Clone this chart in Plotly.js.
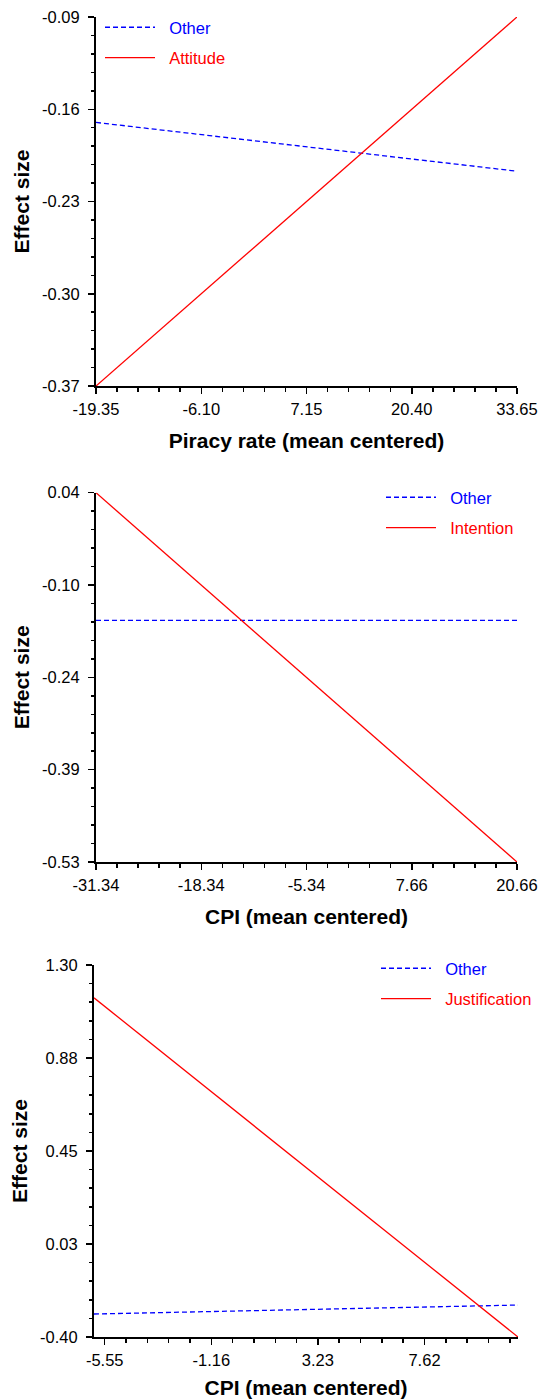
<!DOCTYPE html>
<html>
<head>
<meta charset="utf-8">
<script src="https://cdn.plot.ly/plotly-3.0.1.min.js"></script>
<style>
  html, body { margin: 0; padding: 0; background: #ffffff; }
  #chart { width: 539px; height: 1399px; }
</style>
</head>
<body>
<div id="chart"></div>
<script>
// ---------- Data ----------
// Panel 1: Piracy rate
const p1X = [-19.35, 33.65];
const p1Other = [-0.170, -0.207];
const p1Attitude = [-0.37, -0.09];
const p1XTicks = [-19.35, -6.10, 7.15, 20.40, 33.65];
const p1XTickText = ['-19.35', '-6.10', '7.15', '20.40', '33.65'];
const p1YTicks = [-0.37, -0.30, -0.23, -0.16, -0.09];
const p1YTickText = ['-0.37', '-0.30', '-0.23', '-0.16', '-0.09'];

// Panel 2: CPI / Intention
const p2X = [-31.34, 20.66];
const p2Other = [-0.157, -0.157];
const p2Intention = [0.04, -0.53];
const p2XTicks = [-31.34, -18.34, -5.34, 7.66, 20.66];
const p2XTickText = ['-31.34', '-18.34', '-5.34', '7.66', '20.66'];
const p2YTicks = [-0.53, -0.3875, -0.245, -0.1025, 0.04];
const p2YTickText = ['-0.53', '-0.39', '-0.24', '-0.10', '0.04'];

// Panel 3: CPI / Justification
const p3X = [-5.99, 11.47];
const p3Other = [-0.295, -0.254];
const p3Justification = [1.15, -0.40];
const p3XTicks = [-5.55, -1.16, 3.23, 7.62];
const p3XTickText = ['-5.55', '-1.16', '3.23', '7.62'];
const p3YTicks = [-0.40, 0.025, 0.45, 0.875, 1.30];
const p3YTickText = ['-0.40', '0.03', '0.45', '0.88', '1.30'];

const seriesNames = ['Other', 'Attitude', 'Intention', 'Justification'];
const xTitles = ['Piracy rate (mean centered)', 'CPI (mean centered)', 'CPI (mean centered)'];
const yTitle = 'Effect size';

// ---------- Styling ----------
const W = 539, H = 1399;
const BLUE = '#0000ff', RED = '#ff0000';
const FONT = 'Liberation Sans, Arial, Helvetica, sans-serif';

function xd(a, b) { return [a / W, b / W]; }
function yd(top, bottom) { return [1 - bottom / H, 1 - top / H]; }

function axisBase(extra) {
  return Object.assign({
    showline: true, linecolor: '#000', linewidth: 2,
    showgrid: false, zeroline: false,
    ticks: 'outside', ticklen: 6, tickwidth: 1.5, tickcolor: '#000',
    tickmode: 'array',
    tickfont: { family: FONT, size: 16.5, color: '#000' },
    fixedrange: true
  }, extra);
}
function minor(t0, dt) {
  return { tickmode: 'linear', tick0: t0, dtick: dt, ticks: 'outside', ticklen: 3.5, tickwidth: 1.5, tickcolor: '#000', showgrid: false };
}
function xTitle(t) {
  return { text: t, font: { family: FONT, size: 21, weight: 'bold', color: '#000' }, standoff: 17 };
}
function yTitleObj() {
  return { text: yTitle, font: { family: FONT, size: 21, weight: 'bold', color: '#000' }, standoff: 7 };
}
function nm(t, c) { return '<span style="color:' + c + '">&nbsp;&nbsp;' + t + '</span>'; }

const otherLine = { color: BLUE, width: 1.3, dash: '5px,3px' };
const redLine = { color: RED, width: 1.3 };

const traces = [
  { x: p1X, y: p1Other, xaxis: 'x', yaxis: 'y', mode: 'lines', line: otherLine, name: nm(seriesNames[0], BLUE), legend: 'legend', legendgroup: 'a1' },
  { x: p1X, y: p1Attitude, xaxis: 'x', yaxis: 'y', mode: 'lines', line: redLine, name: nm(seriesNames[1], RED), legend: 'legend', legendgroup: 'b1' },
  { x: p2X, y: p2Other, xaxis: 'x2', yaxis: 'y2', mode: 'lines', line: otherLine, name: nm(seriesNames[0], BLUE), legend: 'legend2', legendgroup: 'a2' },
  { x: p2X, y: p2Intention, xaxis: 'x2', yaxis: 'y2', mode: 'lines', line: redLine, name: nm(seriesNames[2], RED), legend: 'legend2', legendgroup: 'b2' },
  { x: p3X, y: p3Other, xaxis: 'x3', yaxis: 'y3', mode: 'lines', line: otherLine, name: nm(seriesNames[0], BLUE), legend: 'legend3', legendgroup: 'a3' },
  { x: p3X, y: p3Justification, xaxis: 'x3', yaxis: 'y3', mode: 'lines', line: redLine, name: nm(seriesNames[3], RED), legend: 'legend3', legendgroup: 'b3' }
];

function legendAt(px, py) {
  return {
    x: px / W, y: 1 - py / H, xanchor: 'left', yanchor: 'top',
    bgcolor: 'rgba(0,0,0,0)', borderwidth: 0,
    font: { family: FONT, size: 16.5, color: '#000' },
    tracegroupgap: 6, itemwidth: 50, traceorder: 'grouped',
    itemclick: false, itemdoubleclick: false
  };
}

const layout = {
  width: W, height: H,
  margin: { l: 0, r: 0, t: 0, b: 0 },
  paper_bgcolor: '#fff', plot_bgcolor: '#fff',
  font: { family: FONT, color: '#000' },
  showlegend: true,
  xaxis: axisBase({ domain: xd(96, 517), anchor: 'y', range: [p1X[0], p1X[1]], tickvals: p1XTicks, ticktext: p1XTickText, minor: minor(-19.35, 2.65), title: xTitle(xTitles[0]), ticklabelstandoff: 1 }),
  yaxis: axisBase({ domain: yd(17, 386), anchor: 'x', range: [-0.37, -0.09], tickvals: p1YTicks, ticktext: p1YTickText, minor: minor(-0.37, 0.014), title: yTitleObj(), ticklabelstandoff: 5 }),
  xaxis2: axisBase({ domain: xd(96, 517), anchor: 'y2', range: [p2X[0], p2X[1]], tickvals: p2XTicks, ticktext: p2XTickText, minor: minor(-31.34, 2.6), title: xTitle(xTitles[1]), ticklabelstandoff: 1 }),
  yaxis2: axisBase({ domain: yd(492.7, 862), anchor: 'x2', range: [-0.53, 0.04], tickvals: p2YTicks, ticktext: p2YTickText, minor: minor(-0.53, 0.0285), title: yTitleObj(), ticklabelstandoff: 5 }),
  xaxis3: axisBase({ domain: xd(94, 518), anchor: 'y3', range: [p3X[0], p3X[1]], tickvals: p3XTicks, ticktext: p3XTickText, minor: minor(-5.55, 0.878), title: xTitle(xTitles[2]), ticklabelstandoff: 1 }),
  yaxis3: axisBase({ domain: yd(965, 1337), anchor: 'x3', range: [-0.40, 1.30], tickvals: p3YTicks, ticktext: p3YTickText, minor: minor(-0.40, 0.085), title: yTitleObj(), ticklabelstandoff: 5 }),
  legend: legendAt(100, 10),
  legend2: legendAt(381, 480),
  legend3: legendAt(376, 951)
};

Plotly.newPlot('chart', traces, layout, { displayModeBar: false, staticPlot: true });
</script>
</body>
</html>
